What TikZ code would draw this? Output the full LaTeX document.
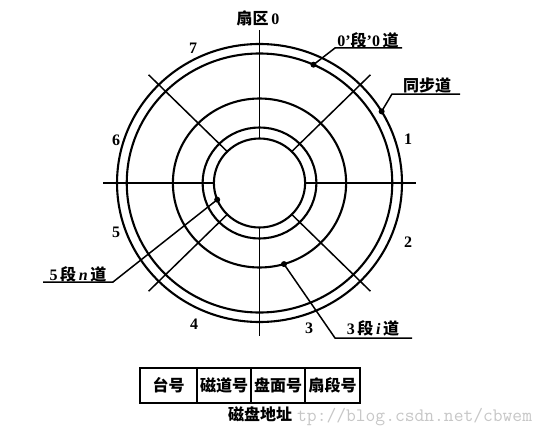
\documentclass[tikz,border=0pt]{standalone}
\usepackage{fontspec}
\setmainfont{Liberation Serif}
\newfontfamily\cjk{Noto Sans CJK SC}
\newcommand\zh[1]{{\cjk\bfseries #1}}
\begin{document}
\begin{tikzpicture}[x=1pt,y=-1pt,
  ring/.style={line width=2.1pt},
  spoke/.style={line width=1.5pt},
  leader/.style={line width=1.5pt},
  dotmark/.style={circle,fill=black,inner sep=0pt,minimum size=6pt},
  lbl/.style={inner sep=0pt,font=\bfseries\fontsize{16}{16}\selectfont},
  cell/.style={draw,line width=1.6pt,minimum height=35pt,inner sep=0pt,font=\cjk\bfseries\fontsize{16}{16}\selectfont}]
\useasboundingbox (0,0) rectangle (548,436);
\fill[white] (0,0) rectangle (548,436);
\begin{scope}[shift={(259.5,183)}, xscale=1.025]
  \draw[ring] (0,0) circle[radius=139];
  \draw[ring] (0,0) circle[radius=129.5];
  \draw[ring] (0,0) circle[radius=84.5];
  \draw[ring] (0,0) circle[radius=55.5];
  \draw[ring] (0,0) circle[radius=44.5];
  \foreach \a in {0,45,...,315} \draw[spoke] (\a:44.5) -- (\a:153);
  \node[dotmark] (d0) at (-66:129.5) {};
  \node[dotmark] (ds) at (-31:139) {};
  \node[dotmark] (dn) at (158:44.5) {};
  \node[dotmark] (di) at (73.6:84.5) {};
\end{scope}
% leaders
\coordinate (b0) at (335,48);  \coordinate (e0) at (402,48);
\coordinate (bs) at (392,94);  \coordinate (es) at (460,94);
\coordinate (bn) at (113,282); \coordinate (en) at (43,282);
\coordinate (bi) at (335,338); \coordinate (ei) at (412,338);
\draw[leader] (d0.center) -- (b0) -- (e0);
\draw[leader] (ds.center) -- (bs) -- (es);
\draw[leader] (dn.center) -- (bn) -- (en);
\draw[leader] (di.center) -- (bi) -- (ei);
% labels
\node[lbl] (l0) at (368,40) {0'\zh{段}'0\,\zh{道}};
\node[lbl] (ls) at (427,85) {\zh{同步道}};
\node[lbl] (ln) at (78,274) {5\,\zh{段}\,\textit{n}\,\zh{道}};
\node[lbl] (li) at (373,328) {3\,\zh{段}\,\textit{i}\,\zh{道}};
\node[lbl] (sec0) at (258,18) {\zh{扇区}\,0};
\node[lbl] (sec7) at (193,48) {7};
\node[lbl] (sec1) at (408,139) {1};
\node[lbl] (sec2) at (408,242) {2};
\node[lbl] (sec3) at (309,328) {3};
\node[lbl] (sec4) at (194,324) {4};
\node[lbl] (sec5) at (116,232) {5};
\node[lbl] (sec6) at (116,140) {6};
% table
\node[cell,minimum width=57pt] (c1) at (168.5,385.5) {台号};
\node[cell,minimum width=54pt] (c2) at (224,385.5) {磁道号};
\node[cell,minimum width=54pt] (c3) at (278,385.5) {盘面号};
\node[cell,minimum width=55pt] (c4) at (332.5,385.5) {扇段号};
% caption and watermark
\node[inner sep=0pt,font=\cjk\bfseries\fontsize{16}{16}\selectfont] (cap) at (260,414) {磁盘地址};
\node[text=black!22,inner sep=0pt,anchor=base west,font=\ttfamily\fontsize{19}{19}\selectfont] (wm) at (297,421) {tp://blog.csdn.net/cbwem};
\end{tikzpicture}
\end{document}
